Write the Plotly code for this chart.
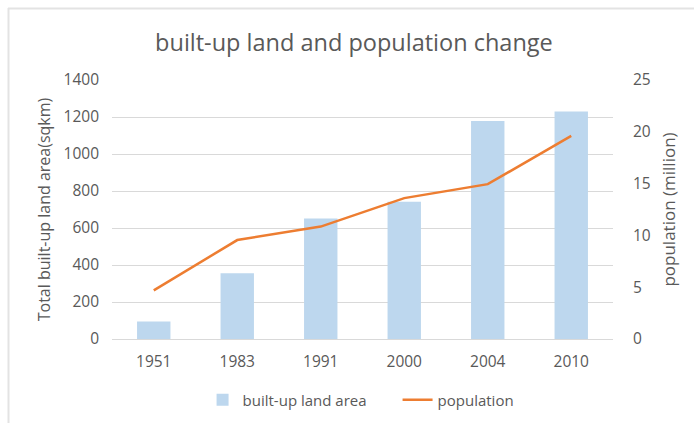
import plotly.graph_objects as go

years = ["1951", "1983", "1991", "2000", "2004", "2010"]
built_up_area = [95, 355, 652, 742, 1178, 1230]
population = [4.7, 9.55, 10.85, 13.6, 14.95, 19.6]

TEXT = "#595959"
FONT = "Open Sans, Liberation Sans, sans-serif"
W, H = 694, 423
ML, MR, MT, MB = 112, 81, 80, 84

fig = go.Figure()
fig.add_trace(go.Bar(
    x=years, y=built_up_area, name="built-up land area",
    marker=dict(color="#bdd7ee", line=dict(width=0)),
    yaxis="y",
))
fig.add_trace(go.Scatter(
    x=years, y=population, name="population", mode="lines",
    line=dict(color="#ed7d31", width=2.5),
    yaxis="y2",
))

fig.update_layout(
    width=W, height=H,
    margin=dict(l=ML, r=MR, t=MT, b=MB, autoexpand=False),
    paper_bgcolor="white", plot_bgcolor="white",
    font=dict(family=FONT, color=TEXT, size=15),
    title=dict(text="built-up land and population change", x=0.51, xanchor="center",
               y=1 - 43 / H, yanchor="middle",
               font=dict(size=23.5, color=TEXT, family=FONT)),
    bargap=0.6,
    xaxis=dict(type="category", showgrid=False, showline=True,
               linecolor="#d9d9d9", linewidth=1, ticks="",
               ticklabelstandoff=8,
               tickfont=dict(size=15.5, color=TEXT)),
    yaxis=dict(range=[0, 1400], dtick=200, showgrid=True, gridcolor="#d9d9d9",
               gridwidth=1, zeroline=False, showline=False, ticks="",
               ticklabelstandoff=12,
               tickfont=dict(size=15.5, color=TEXT),
               title=dict(text="Total built-up land area(sqkm)",
                          font=dict(size=16, color=TEXT), standoff=8)),
    yaxis2=dict(range=[0, 25], dtick=5, overlaying="y", side="right",
                showgrid=False, zeroline=False, showline=False, ticks="",
                ticklabelstandoff=19,
                tickfont=dict(size=15.5, color=TEXT),
                title=dict(text="population (million)",
                           font=dict(size=17, color=TEXT), standoff=13)),
    legend=dict(orientation="h", x=0.57, xanchor="center",
                yref="container", y=1 - 400 / H, yanchor="middle",
                entrywidth=150, entrywidthmode="pixels",
                font=dict(size=15, color=TEXT)),
    showlegend=True,
)

# thin frame around the chart area (top and left edges)
pl, pr, pt, pb = ML, W - MR, MT, H - MB
def px(x):
    return (x - pl) / (pr - pl)
def py(y):
    return (pb - y) / (pb - pt)
fig.add_shape(type="line", xref="paper", yref="paper",
              x0=px(8), x1=px(W), y0=py(8.5), y1=py(8.5),
              line=dict(color="#e3e3e3", width=2))
fig.add_shape(type="line", xref="paper", yref="paper",
              x0=px(8.5), x1=px(8.5), y0=py(8), y1=py(H),
              line=dict(color="#e3e3e3", width=2))

fig.write_html("out.html")
